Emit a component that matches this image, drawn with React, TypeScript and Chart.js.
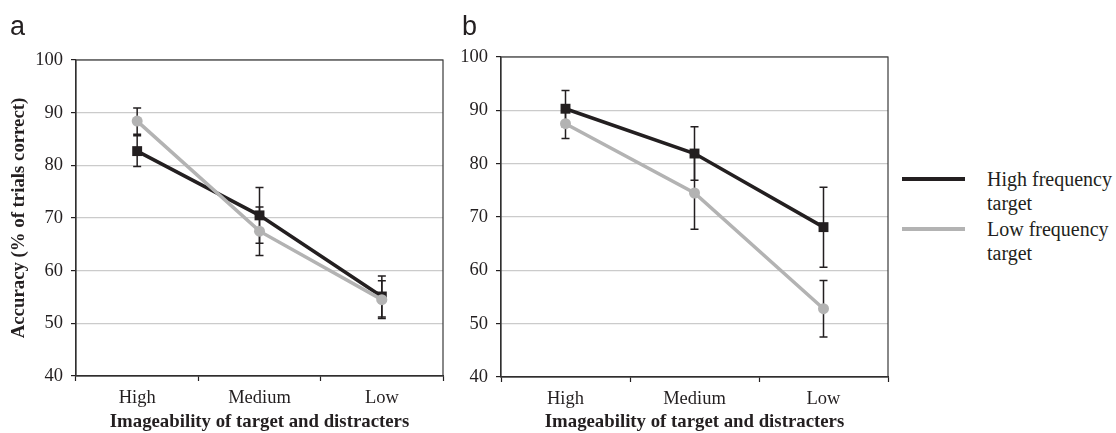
import React, { useEffect, useRef } from "react";
import { Chart, registerables } from "chart.js";

Chart.register(...registerables);

// ---- data ----
const categories = ["High", "Medium", "Low"];
const yTickValues = [40, 50, 60, 70, 80, 90, 100];
const seriesNames = ["High frequency target", "Low frequency target"];

const aHighFreq = [82.7, 70.5, 55.1];
const aHighFreqErr = [2.9, 5.3, 3.9];
const aLowFreq = [88.4, 67.5, 54.5];
const aLowFreqErr = [2.5, 4.6, 3.6];

const bHighFreq = [90.3, 81.9, 68.1];
const bHighFreqErr = [3.4, 5.0, 7.5];
const bLowFreq = [87.5, 74.5, 52.8];
const bLowFreqErr = [2.8, 6.8, 5.3];

const xTitle = "Imageability of target and distracters";
const yTitle = "Accuracy (% of trials correct)";

const DARK = "#231f20";
const GREY = "#b3b3b3";
const GRID = "#cbcbcb";
const SERIF = "'Liberation Serif', 'Times New Roman', serif";

const errorBarPlugin = {
  id: "errorBars",
  beforeDatasetsDraw(chart: any) {
    const { ctx, chartArea } = chart;
    const x = chart.scales.x;
    const y = chart.scales.y;
    ctx.save();
    // frame
    ctx.strokeStyle = "#3a3a3a";
    ctx.lineWidth = 1.2;
    ctx.strokeRect(chartArea.left, chartArea.top, chartArea.right - chartArea.left, chartArea.bottom - chartArea.top);
    // error bars
    ctx.strokeStyle = DARK;
    ctx.lineWidth = 1.5;
    chart.data.datasets.forEach((ds: any) => {
      const errs = ds.errors as number[] | undefined;
      if (!errs) return;
      (ds.data as number[]).forEach((v, i) => {
        const px = x.getPixelForValue(i);
        const top = y.getPixelForValue(v + errs[i]);
        const bot = y.getPixelForValue(v - errs[i]);
        ctx.beginPath();
        ctx.moveTo(px, top);
        ctx.lineTo(px, bot);
        ctx.moveTo(px - 4, top);
        ctx.lineTo(px + 4, top);
        ctx.moveTo(px - 4, bot);
        ctx.lineTo(px + 4, bot);
        ctx.stroke();
      });
    });
    ctx.restore();
  },
};

type PanelProps = {
  high: number[];
  highErr: number[];
  low: number[];
  lowErr: number[];
  showYTitle: boolean;
  yAxisWidth: number;
  xAxisHeight: number;
  padTop: number;
  padRight: number;
};

function Panel(p: PanelProps) {
  const ref = useRef<HTMLCanvasElement | null>(null);
  useEffect(() => {
    if (!ref.current) return;
    const chart = new Chart(ref.current, {
      type: "line",
      data: {
        labels: categories,
        datasets: [
          {
            label: seriesNames[0],
            data: p.high,
            errors: p.highErr,
            borderColor: DARK,
            backgroundColor: DARK,
            borderWidth: 3.5,
            pointStyle: "rect",
            pointRadius: 7,
            pointBorderWidth: 0,
            pointBackgroundColor: DARK,
            tension: 0,
            order: 2,
          } as any,
          {
            label: seriesNames[1],
            data: p.low,
            errors: p.lowErr,
            borderColor: GREY,
            backgroundColor: GREY,
            borderWidth: 3.5,
            pointStyle: "circle",
            pointRadius: 5.5,
            pointBorderWidth: 0,
            pointBackgroundColor: GREY,
            tension: 0,
            order: 1,
          } as any,
        ],
      },
      options: {
        animation: false,
        responsive: false,
        devicePixelRatio: 1,
        layout: { padding: { top: p.padTop, right: p.padRight, left: 0, bottom: 0 } },
        plugins: { legend: { display: false }, tooltip: { enabled: false } },
        scales: {
          x: {
            type: "category",
            offset: true,
            grid: {
              offset: true,
              drawOnChartArea: false,
              drawTicks: true,
              tickLength: 5,
              tickColor: DARK,
              tickWidth: 1.2,
            },
            border: { color: DARK, width: 1.2 },
            ticks: { padding: 6, color: DARK, font: { family: SERIF, size: 18.5 } },
            title: {
              display: true,
              text: xTitle,
              color: DARK,
              font: { family: SERIF, size: 18.8, weight: "bold" },
              padding: { top: 0, bottom: 0 },
            },
            afterFit: (s: any) => {
              s.height = p.xAxisHeight;
            },
          },
          y: {
            min: 40,
            max: 100,
            afterBuildTicks: (s: any) => {
              s.ticks = yTickValues.map((v) => ({ value: v }));
            },
            grid: {
              color: GRID,
              lineWidth: 1.2,
              tickColor: DARK,
              tickLength: 5,
              tickWidth: 1.2,
            },
            border: { color: DARK, width: 1.2 },
            ticks: { padding: 8, color: DARK, font: { family: SERIF, size: 18.5 } },
            title: {
              display: p.showYTitle,
              text: yTitle,
              color: DARK,
              font: { family: SERIF, size: 18.8, weight: "bold" },
              padding: { top: 8, bottom: 0 },
            },
            afterFit: (s: any) => {
              s.width = p.yAxisWidth;
            },
          },
        },
      } as any,
      plugins: [errorBarPlugin],
    });
    return () => chart.destroy();
  }, []);
  return <canvas ref={ref} width={460} height={433} style={{ display: "block" }} />;
}

export default function App() {
  const legendLine = (color: string, top: number) => (
    <div style={{ position: "absolute", left: 902, top: top - 2, width: 63, height: 4, background: color }} />
  );
  const legendText = (text: string[], top: number) => (
    <div
      style={{
        position: "absolute",
        left: 987,
        top,
        fontFamily: SERIF,
        fontSize: 20,
        lineHeight: "24px",
        color: DARK,
        whiteSpace: "nowrap",
      }}
    >
      {text.map((t, i) => (
        <div key={i}>{t}</div>
      ))}
    </div>
  );
  const panelLabel = (t: string, left: number) => (
    <div
      style={{
        position: "absolute",
        left,
        top: 13,
        fontFamily: "'Liberation Sans', Arial, sans-serif",
        fontSize: 27,
        lineHeight: "27px",
        color: DARK,
      }}
    >
      {t}
    </div>
  );
  return (
    <div style={{ position: "fixed", left: 0, top: 0, width: 1116, height: 433, background: "#fff", overflow: "hidden" }}>
      <div style={{ position: "absolute", left: 0, top: 0 }}>
        <Panel
          high={aHighFreq}
          highErr={aHighFreqErr}
          low={aLowFreq}
          lowErr={aLowFreqErr}
          showYTitle={true}
          yAxisWidth={76}
          xAxisHeight={57}
          padTop={60}
          padRight={17}
        />
      </div>
      <div style={{ position: "absolute", left: 440, top: 0 }}>
        <Panel
          high={bHighFreq}
          highErr={bHighFreqErr}
          low={bLowFreq}
          lowErr={bLowFreqErr}
          showYTitle={false}
          yAxisWidth={61}
          xAxisHeight={56}
          padTop={57}
          padRight={12}
        />
      </div>
      {panelLabel("a", 10)}
      {panelLabel("b", 462)}
      {legendLine(DARK, 179)}
      {legendLine(GREY, 229)}
      {legendText(["High frequency", "target"], 167)}
      {legendText(["Low frequency", "target"], 217)}
    </div>
  );
}
